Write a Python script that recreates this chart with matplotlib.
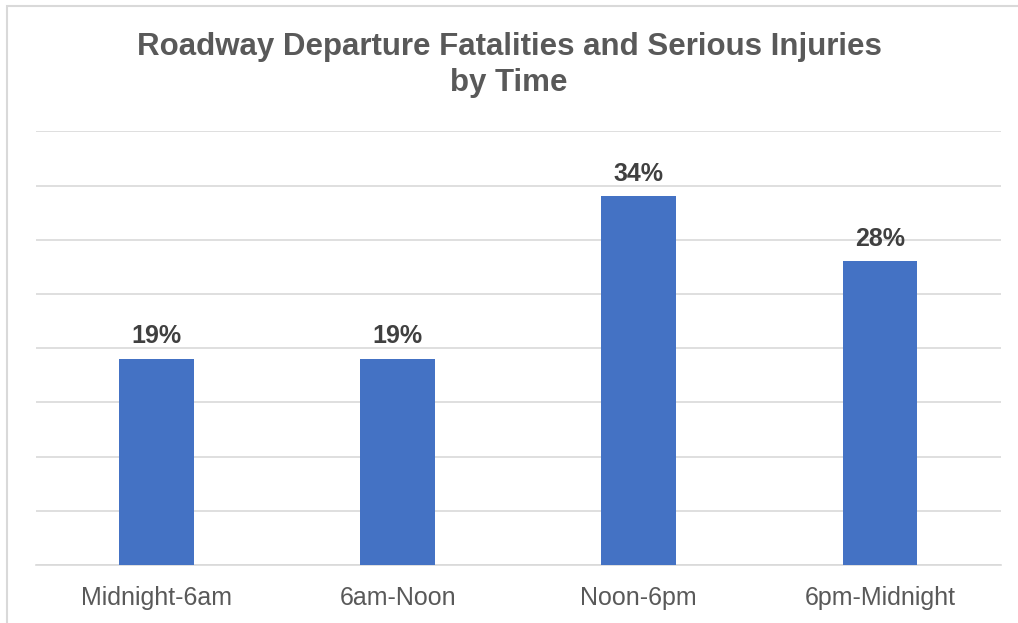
import matplotlib
matplotlib.use("Agg")
import matplotlib.pyplot as plt
from matplotlib.patches import Rectangle

categories = ["Midnight-6am", "6am-Noon", "Noon-6pm", "6pm-Midnight"]
values = [19, 19, 34, 28]
title = "Roadway Departure Fatalities and Serious Injuries\nby Time"

W, H = 1018, 623
fig = plt.figure(figsize=(W / 100, H / 100), dpi=100)
plt.rcParams['font.family'] = ['Liberation Sans', 'DejaVu Sans']

ax = fig.add_axes([36 / W, (H - 565) / H, (1000.5 - 36) / W, (565 - 131.4) / H])
x = list(range(len(categories)))
bars = ax.bar(x, values, width=0.31, color="#4472C4", zorder=3)
ax.set_xlim(-0.5, len(categories) - 0.5)
ax.set_ylim(0, 40)
ax.set_yticks(range(0, 41, 5))
ax.yaxis.grid(True, color="#D9D9D9", linewidth=1.2, zorder=0)
ax.tick_params(axis='y', left=False, labelleft=False)
ax.tick_params(axis='x', length=0, pad=15, labelsize=18, labelcolor="#595959")
ax.set_xticks(x)
ax.set_xticklabels(categories)
for s in ["top", "right", "left"]:
    ax.spines[s].set_visible(False)
ax.spines["bottom"].set_color("#D9D9D9")
ax.spines["bottom"].set_linewidth(1.2)

for xi, v in zip(x, values):
    ax.annotate(f"{v}%", (xi, v), xytext=(0, 16.5), textcoords="offset points",
                ha="center", va="center", fontsize=18, fontweight="bold", color="#404040")

fig.text(0.5, (H - 65) / H, title, ha="center", va="center", fontsize=22.5,
         fontweight="bold", color="#595959", linespacing=1.22)

fig.add_artist(Rectangle((6.5 / W, -0.1), 1.2, 1.1 - 6.5 / H, transform=fig.transFigure,
                         fill=False, edgecolor="#D9D9D9", linewidth=1.5))

fig.savefig("out.png", dpi=100)
